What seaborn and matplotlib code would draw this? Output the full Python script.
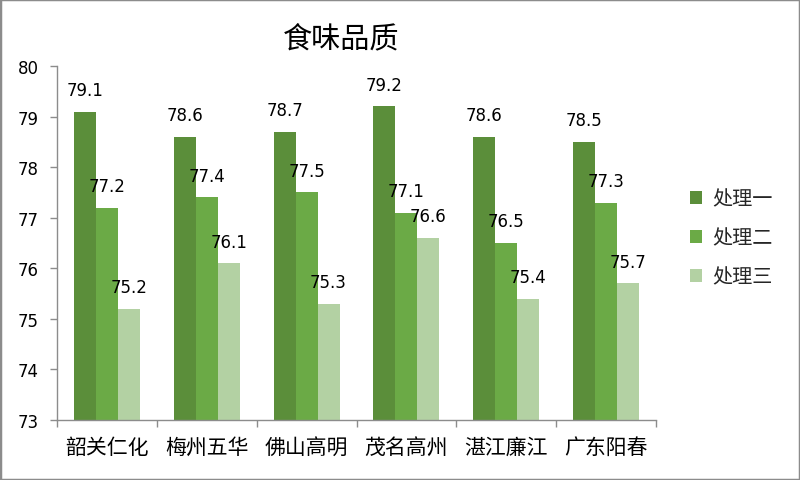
import matplotlib
matplotlib.use("Agg")
import matplotlib.pyplot as plt
import seaborn as sns
import pandas as pd
from matplotlib.patches import Patch, Rectangle

categories = ["韶关仁化", "梅州五华", "佛山高明", "茂名高州", "湛江廉江", "广东阳春"]
series = ["处理一", "处理二", "处理三"]
t1 = [79.1, 78.6, 78.7, 79.2, 78.6, 78.5]
t2 = [77.2, 77.4, 77.5, 77.1, 76.5, 77.3]
t3 = [75.2, 76.1, 75.3, 76.6, 75.4, 75.7]
colors = ["#5B8E3A", "#6BAA46", "#B3D1A3"]
yticks = [73, 74, 75, 76, 77, 78, 79, 80]

rows = []
for s, vals in zip(series, [t1, t2, t3]):
    for c, v in zip(categories, vals):
        rows.append({"cat": c, "series": s, "value": v})
df = pd.DataFrame(rows)

sns.set_theme(style="white")
plt.rcParams["font.family"] = ["DejaVu Sans", "Noto Sans CJK SC"]

fig = plt.figure(figsize=(8, 4.81), dpi=100)
ax = fig.add_axes([57/800, 1-421/481, 599/800, (421-67)/481])

sns.barplot(data=df, x="cat", y="value", hue="series", palette=colors,
            width=0.66, gap=0, saturation=1, ax=ax, legend=False,
            edgecolor="none", linewidth=0)

ax.set_ylim(73, 80)
ax.set_xlim(-0.5, len(categories) - 0.5)
ax.set_yticks(yticks)
ax.set_yticklabels([str(v) for v in yticks], fontsize=12, color="#000000")
ax.set_xlabel("")
ax.set_ylabel("")
ax.tick_params(axis="x", which="major", length=0, pad=12, labelsize=15, labelcolor="#000000")
ax.set_xticks([i - 0.5 for i in range(len(categories) + 1)], minor=True)
ax.tick_params(axis="x", which="minor", length=5, width=1, color="#8c8c8c", direction="out", bottom=True)
ax.tick_params(axis="y", length=5, width=1, color="#8c8c8c", direction="out", pad=8, left=True)

for sp in ["top", "right"]:
    ax.spines[sp].set_visible(False)
for sp in ["left", "bottom"]:
    ax.spines[sp].set_color("#8c8c8c")
    ax.spines[sp].set_linewidth(1)

for cont in ax.containers:
    ax.bar_label(cont, fmt="%.1f", padding=9, fontsize=12, color="#000000")

handles = [Patch(facecolor=c, edgecolor="none", label=s) for c, s in zip(colors, series)]
fig.legend(handles=handles, loc="center left", bbox_to_anchor=(690/800, 1-239/481),
           frameon=False, fontsize=14.5, handlelength=0.6, handleheight=0.6,
           handletextpad=0.5, labelspacing=1.0, borderpad=0, borderaxespad=0)

fig.text(341/800, 1-40/481, "食味品质", ha="center", va="center", fontsize=21,
         family=["Noto Sans CJK SC"], color="#000000")

fig.patches.append(Rectangle((0, 0), 1, 1, transform=fig.transFigure, fill=False,
                             edgecolor="#8c8c8c", linewidth=2.5, zorder=10))

fig.savefig("out.png", dpi=100)
